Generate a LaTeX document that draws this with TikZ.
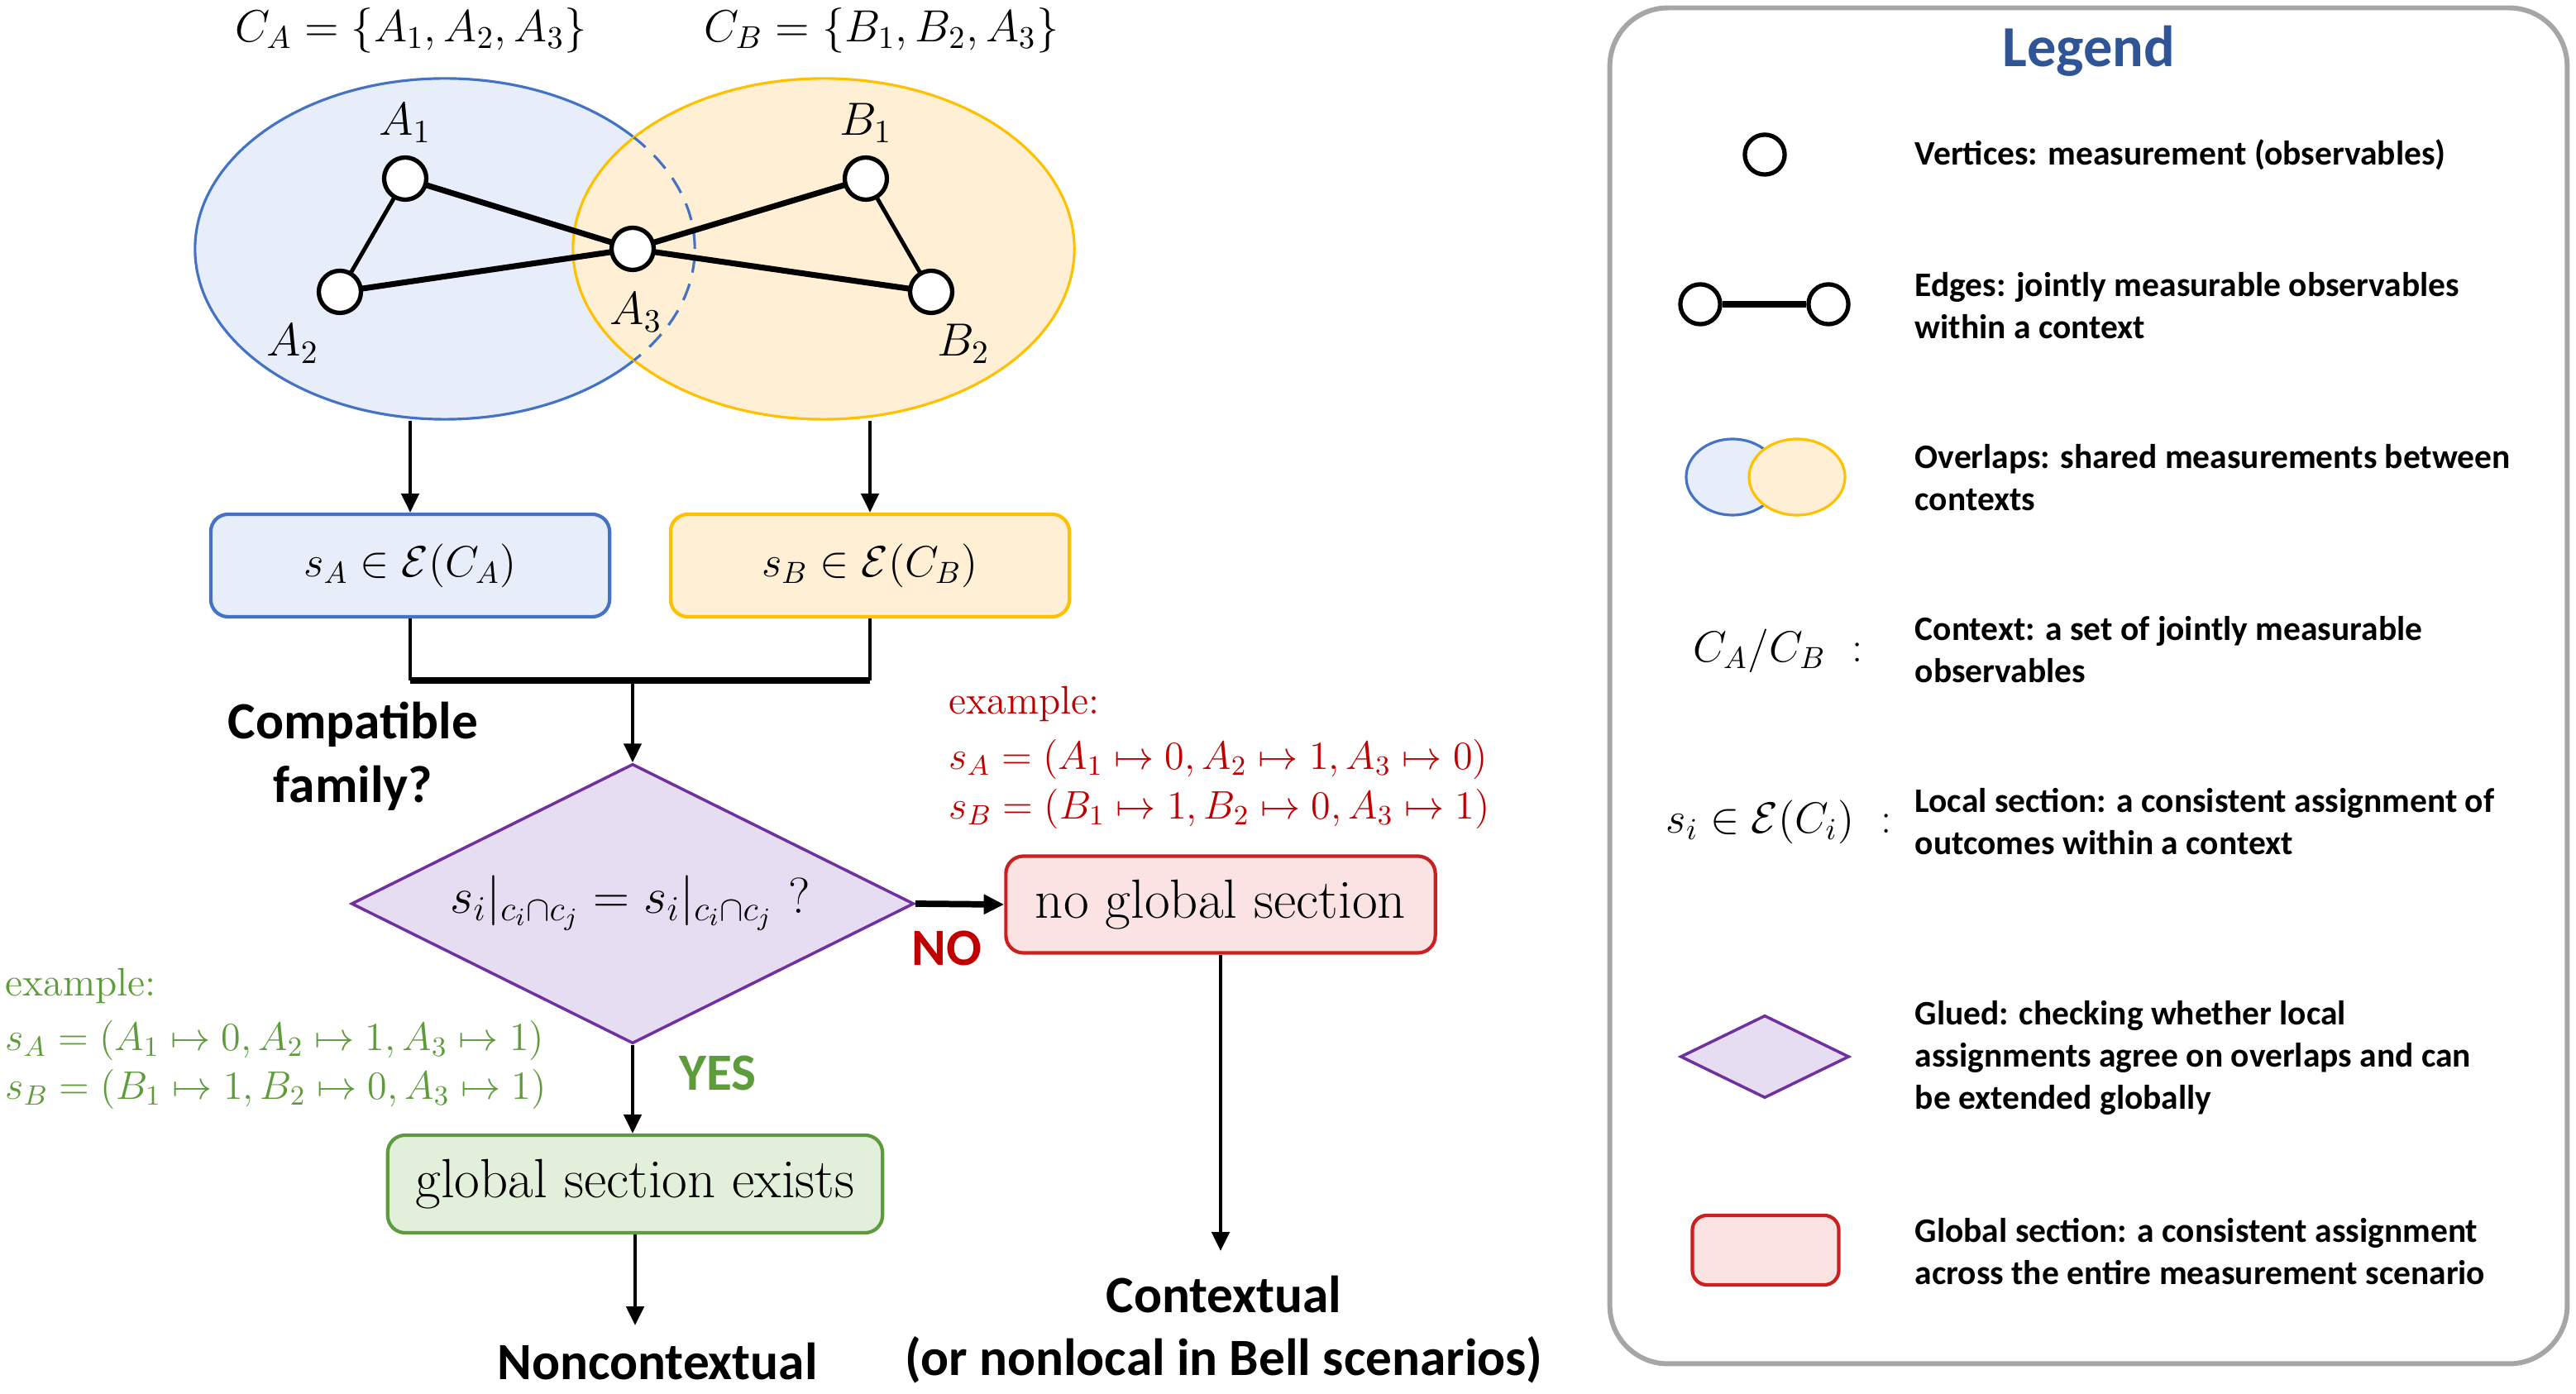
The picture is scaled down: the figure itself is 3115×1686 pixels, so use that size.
\documentclass[tikz,border=0pt]{standalone}
\usepackage{fix-cm}
\usepackage{fontspec}
\newfontfamily\carl{Carlito}
\usetikzlibrary{arrows.meta,shapes.geometric}
\definecolor{blueS}{HTML}{4472C4}
\definecolor{blueF}{HTML}{E7EEFA}
\definecolor{orangeS}{HTML}{FFC000}
\definecolor{orangeF}{HTML}{FFF0D5}
\definecolor{redS}{HTML}{CC1F1F}
\definecolor{redF}{HTML}{FBE3E4}
\definecolor{greenS}{HTML}{5E9B3E}
\definecolor{greenF}{HTML}{E2EFDA}
\definecolor{purpS}{HTML}{7030A0}
\definecolor{purpF}{HTML}{E6DDF3}
\definecolor{redT}{HTML}{C00000}
\definecolor{greenT}{HTML}{5E9B3A}
\definecolor{legBlue}{HTML}{2F5597}
\definecolor{legGray}{HTML}{A6A6A6}
\tikzset{
  arr/.style={-{Triangle[length=6.5pt,width=6pt]}, line width=1.2pt},
  vtx/.style={circle, draw=black, line width=1.5pt, fill=white, minimum size=14.5pt, inner sep=0pt},
  vlbl/.style={inner sep=0pt, font=\fontsize{16}{19}\selectfont},
  toplbl/.style={inner sep=0pt, font=\fontsize{15.5}{19}\selectfont},
  sbox/.style={rounded corners=6pt, line width=1.2pt, inner sep=0pt},
  boxtxt/.style={font=\fontsize{15}{18}\selectfont},
  bigbold/.style={inner sep=0pt, align=center, font=\carl\bfseries\fontsize{18}{22}\selectfont},
  extxt/.style={anchor=west, inner sep=0pt, font=\fontsize{13.7}{17}\selectfont},
  legtxt/.style={anchor=west, align=left, inner sep=0pt, font=\carl\bfseries\fontsize{11.8}{14.5}\selectfont},
  legmath/.style={inner sep=0pt, font=\fontsize{15}{18}\selectfont},
}
\begin{document}
\begin{tikzpicture}[x=0.01cm,y=-0.01cm]
\useasboundingbox (0,0) rectangle (3115,1686);

% ---------- context ellipses ----------
\node[ellipse, draw=blueS, fill=blueF, line width=0.9pt, minimum width=6.04cm, minimum height=4.12cm, inner sep=0pt] (eA) at (538,301) {};
\node[ellipse, draw=orangeS, fill=orangeF, line width=0.9pt, minimum width=6.06cm, minimum height=4.12cm, inner sep=0pt] (eB) at (996,301) {};
\begin{scope}
  \clip (eB.center) ellipse [x radius=3.03cm, y radius=2.06cm];
  \draw[blueS, line width=0.9pt, dash pattern=on 6pt off 4pt] (eA.center) ellipse [x radius=3.02cm, y radius=2.06cm];
\end{scope}

\node[toplbl] (cA) at (497,37) {$C_A=\{A_1,A_2,A_3\}$};
\node[toplbl] (cB) at (1066,37) {$C_B=\{B_1,B_2,A_3\}$};

% ---------- graph ----------
\coordinate (pA1) at (490,216);
\coordinate (pA2) at (411,353);
\coordinate (pA3) at (765,301);
\coordinate (pB1) at (1047,216);
\coordinate (pB2) at (1126,353);
\draw[line width=1.4pt] (pA1) -- (pA2);
\draw[line width=1.4pt] (pB1) -- (pB2);
\draw[line width=2pt] (pA1) -- (pA3);
\draw[line width=2pt] (pA2) -- (pA3);
\draw[line width=2pt] (pB1) -- (pA3);
\draw[line width=2pt] (pB2) -- (pA3);
\node[vtx] (A1) at (pA1) {};
\node[vtx] (A2) at (pA2) {};
\node[vtx] (A3) at (pA3) {};
\node[vtx] (B1) at (pB1) {};
\node[vtx] (B2) at (pB2) {};
\node[vlbl] (lA1) at (490,149) {$A_1$};
\node[vlbl] (lA2) at (354,416) {$A_2$};
\node[vlbl] (lA3) at (769,378) {$A_3$};
\node[vlbl] (lB1) at (1047,149) {$B_1$};
\node[vlbl] (lB2) at (1165,416) {$B_2$};

% ---------- local sections ----------
\node[sbox, draw=blueS, fill=blueF, minimum width=4.82cm, minimum height=1.24cm, boxtxt] (sA) at (496,684) {$s_A\in\mathcal{E}(C_A)$};
\node[sbox, draw=orangeS, fill=orangeF, minimum width=4.82cm, minimum height=1.24cm, boxtxt] (sB) at (1052,684) {$s_B\in\mathcal{E}(C_B)$};
\draw[arr] (eA.south -| sA.north) -- (sA.north);
\draw[arr] (eB.south -| sB.north) -- (sB.north);

% ---------- decision ----------
\node[diamond, draw=purpS, fill=purpF, line width=1pt, minimum width=6.8cm, minimum height=3.38cm, inner sep=0pt] (dia) at (765,1093) {};
\node[inner sep=0pt, font=\fontsize{17.3}{20}\selectfont] (diatxt) at (762,1092) {$s_i|_{c_i\cap c_j}=s_i|_{c_i\cap c_j}\ ?$};

\coordinate (join) at (765,823);
\draw[line width=1.2pt] (sA.south) -- (sA.south |- join);
\draw[line width=1.2pt] (sB.south) -- (sB.south |- join);
\draw[line width=2pt] (sA.south |- join) -- (sB.south |- join);
\draw[arr] (join) -- (dia.north);

\node[bigbold] (cf) at (427,915) {Compatible\\family?};

% ---------- outcomes ----------
\node[sbox, draw=redS, fill=redF, minimum width=5.19cm, minimum height=1.17cm, font=\fontsize{19}{22}\selectfont] (ng) at (1476,1094) {no global section};
\node[sbox, draw=greenS, fill=greenF, minimum width=5.98cm, minimum height=1.18cm, font=\fontsize{19}{22}\selectfont] (gs) at (768,1432) {global section exists};

\draw[-{Triangle[length=7pt,width=6.5pt]}, line width=2.2pt] (dia.east) -- (ng.west);
\draw[arr] (dia.south) -- (dia.south |- gs.north);

\node[bigbold, text=redT] (no) at (1145,1147) {NO};
\node[bigbold, text=greenT] (yes) at (868,1298) {YES};

\coordinate (ncend) at (768,1603);
\coordinate (ctxend) at (1476,1513);
\draw[arr] (gs.south) -- (ncend);
\draw[arr] (ng.south) -- (ctxend);

\node[bigbold] (nctx) at (795,1647) {Noncontextual};
\node[bigbold, font=\carl\bfseries\fontsize{18}{21.8}\selectfont] (ctx) at (1480,1608) {Contextual\\(or nonlocal in Bell scenarios)};

% ---------- examples ----------
\node[extxt, text=redT] (exR1) at (1147,851) {example:};
\node[extxt, text=redT] (exR2) at (1147,918) {$s_A=(A_1\mapsto 0, A_2\mapsto 1, A_3\mapsto 0)$};
\node[extxt, text=redT] (exR3) at (1147,978) {$s_B=(B_1\mapsto 1, B_2\mapsto 0, A_3\mapsto 1)$};
\node[extxt, text=greenT] (exG1) at (6,1192) {example:};
\node[extxt, text=greenT] (exG2) at (6,1258) {$s_A=(A_1\mapsto 0, A_2\mapsto 1, A_3\mapsto 1)$};
\node[extxt, text=greenT] (exG3) at (6,1317) {$s_B=(B_1\mapsto 1, B_2\mapsto 0, A_3\mapsto 1)$};

% ---------- legend ----------
\node[draw=legGray, line width=1.7pt, rounded corners=20pt, minimum width=11.57cm, minimum height=16.39cm, inner sep=0pt] (leg) at (2525.5,829.5) {};
\node[inner sep=0pt, text=legBlue, font=\carl\bfseries\fontsize{20}{24}\selectfont] (legT) at (2526,62) {Legend};

\node[vtx, line width=1.5pt, minimum size=13.7pt] (lv) at (2134,187) {};
\node[legtxt] (t1) at (2315,187) {Vertices: measurement (observables)};

\node[vtx, minimum size=13.7pt] (le1) at (2056,368) {};
\node[vtx, minimum size=13.7pt] (le2) at (2211,368) {};
\draw[line width=2pt] (le1) -- (le2);
\node[legtxt] (t2) at (2315,370) {Edges: jointly measurable observables\\within a context};

\node[ellipse, draw=blueS, fill=blueF, line width=0.9pt, minimum width=1.12cm, minimum height=0.92cm, inner sep=0pt] (lo1) at (2095,577) {};
\node[ellipse, draw=orangeS, fill=orangeF, line width=0.9pt, minimum width=1.16cm, minimum height=0.92cm, inner sep=0pt] (lo2) at (2173,577) {};
\node[legtxt] (t3) at (2315,578) {Overlaps: shared measurements between\\contexts};

\node[legmath] (lc) at (2150,787) {$C_A/C_B$\ \ :};
\node[legtxt] (t4) at (2315,786) {Context: a set of jointly measurable\\observables};

\node[legmath] (ls) at (2151,994) {$s_i\in\mathcal{E}(C_i)$\ \ :};
\node[legtxt] (t5) at (2315,994) {Local section: a consistent assignment of\\outcomes within a context};

\node[diamond, draw=purpS, fill=purpF, line width=1pt, minimum width=2.04cm, minimum height=1.0cm, inner sep=0pt] (ld) at (2134,1278) {};
\node[legtxt] (t6) at (2315,1279) {Glued: checking whether local\\assignments agree on overlaps and can\\be extended globally};

\node[draw=redS, fill=redF, line width=1.2pt, rounded corners=5pt, minimum width=1.77cm, minimum height=0.84cm, inner sep=0pt] (lr) at (2135,1512) {};
\node[legtxt] (t7) at (2315,1514) {Global section: a consistent assignment\\across the entire measurement scenario};
\end{tikzpicture}
\end{document}
